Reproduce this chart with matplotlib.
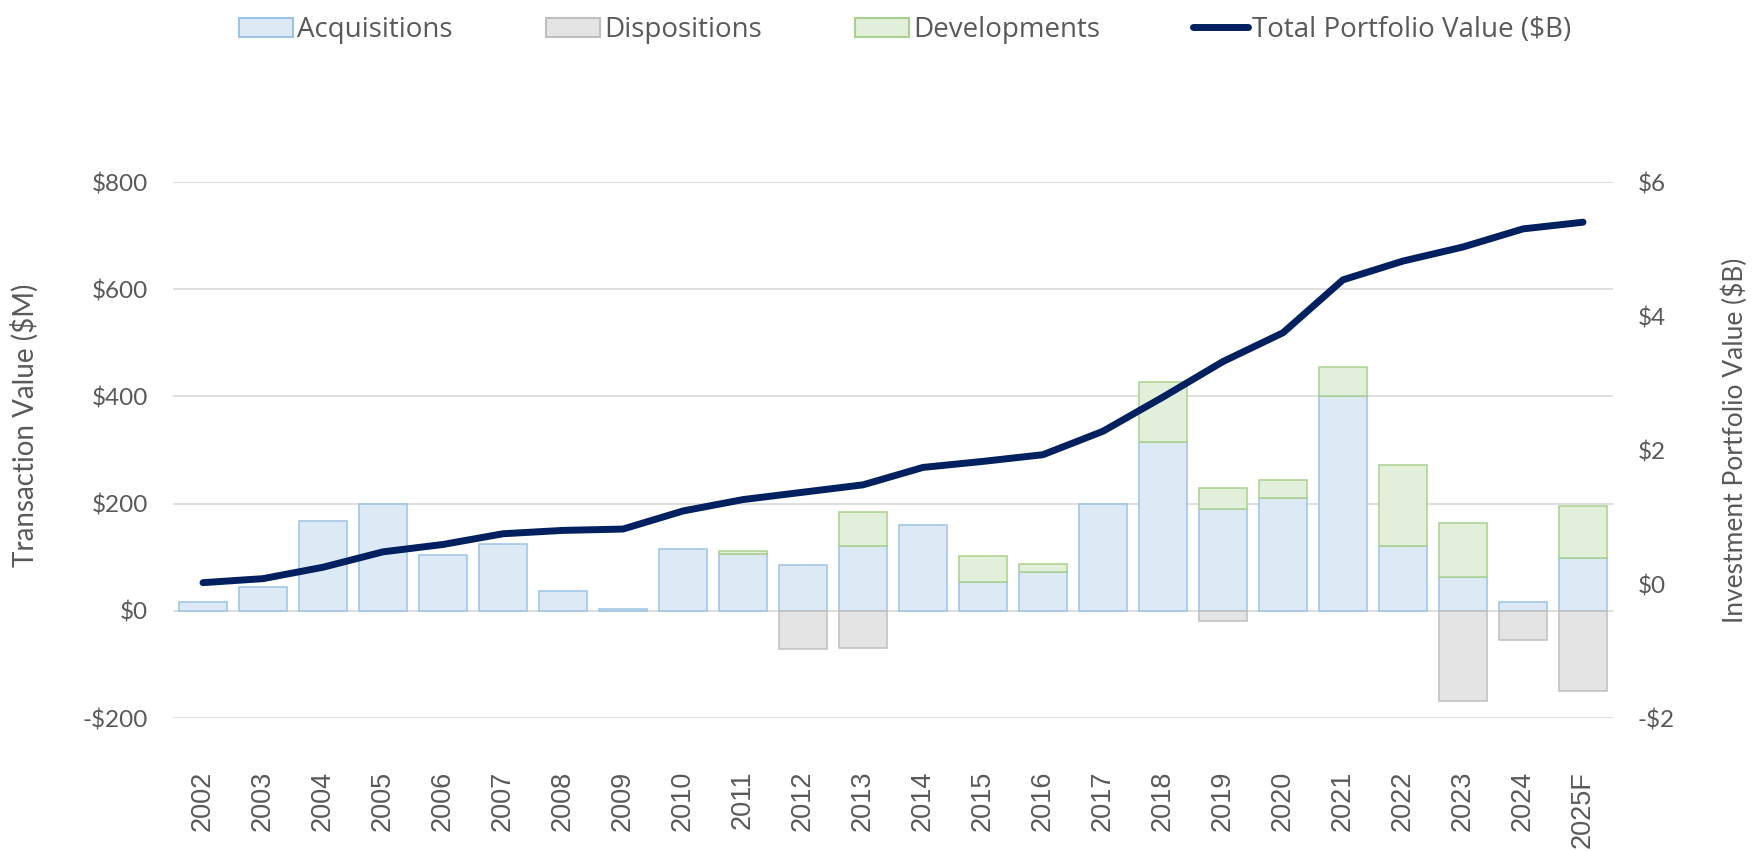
import matplotlib
matplotlib.use('Agg')
import matplotlib.pyplot as plt
import numpy as np
from matplotlib.patches import Patch
from matplotlib.lines import Line2D

years = ['2002', '2003', '2004', '2005', '2006', '2007', '2008', '2009', '2010',
         '2011', '2012', '2013', '2014', '2015', '2016', '2017', '2018', '2019',
         '2020', '2021', '2022', '2023', '2024', '2025F']
acquisitions = [16, 45, 168, 200, 104, 125, 37, 4, 115, 106, 86, 121, 161, 54,
                72, 200, 315, 190, 211, 400, 120, 63, 17, 99]
dispositions = [0, 0, 0, 0, 0, 0, 0, 0, 0, 0, -72, -69, 0, 0, 0, 0, 0, -19, 0,
                0, 0, -168, -55, -150]
developments = [0, 0, 0, 0, 0, 0, 0, 0, 0, 6, 0, 64, 0, 48, 16, 0, 111, 39, 33,
                55, 152, 101, 0, 96]
portfolio = [0.02, 0.08, 0.25, 0.48, 0.59, 0.75, 0.80, 0.82, 1.09, 1.26, 1.37,
             1.48, 1.74, 1.83, 1.93, 2.28, 2.79, 3.32, 3.75, 4.54, 4.82, 5.03,
             5.30, 5.40]
left_ticks = [-200, 0, 200, 400, 600, 800]
left_labels = ['-$200', '$0', '$200', '$400', '$600', '$800']
right_ticks = [-2, 0, 2, 4, 6]
right_labels = ['-$2', '$0', '$2', '$4', '$6']

TXT = '#595959'
ACQ_F, ACQ_E = '#DDEAF6', '#9DC3E6'
DIS_F, DIS_E = '#E4E4E4', '#BFBFBF'
DEV_F, DEV_E = '#E2EFDA', '#A9D18E'
LINE_C = '#002060'

W, H = 1752, 851
fig = plt.figure(figsize=(W / 100, H / 100), dpi=100)
ax = fig.add_axes([173 / W, 1 - 718 / H, 1440 / W, 536 / H])
ax2 = ax.twinx()

x = np.arange(len(years))
acq = np.array(acquisitions, float)
dis = np.array(dispositions, float)
dev = np.array(developments, float)
bw = 0.8
lw_bar = 1.1

m = acq != 0
ax.bar(x[m], acq[m], bw, color=ACQ_F, edgecolor=ACQ_E, linewidth=lw_bar, zorder=2)
m = dis != 0
ax.bar(x[m], dis[m], bw, color=DIS_F, edgecolor=DIS_E, linewidth=lw_bar, zorder=2)
m = dev != 0
ax.bar(x[m], dev[m], bw, bottom=acq[m], color=DEV_F, edgecolor=DEV_E, linewidth=lw_bar, zorder=2)

ax.set_xlim(-0.5, len(years) - 0.5)
ax.set_ylim(-200, 800)
ax.set_yticks(left_ticks)
ax.set_yticklabels(left_labels, fontfamily='Lato', fontsize=17.5, color=TXT)
ax.grid(axis='y', color='#D9D9D9', linewidth=1.2, zorder=0)
ax.set_axisbelow(True)
ax.set_xticks(x)
ax.set_xticklabels(years, rotation=90, fontfamily='Liberation Sans', fontsize=19.5, color=TXT)
ax.tick_params(axis='x', length=0, pad=38)
ax.tick_params(axis='y', length=0, pad=18)
for s in ax.spines.values():
    s.set_visible(False)

ax2.plot(x, portfolio, color=LINE_C, linewidth=5, solid_capstyle='round',
         solid_joinstyle='round', zorder=5)
ax2.set_ylim(-2, 6)
ax2.set_yticks(right_ticks)
ax2.set_yticklabels(right_labels, fontfamily='Lato', fontsize=17.5, color=TXT)
ax2.tick_params(axis='y', length=0, pad=18)
for s in ax2.spines.values():
    s.set_visible(False)

fig.text(25 / W, 1 - 425 / H, 'Transaction Value ($M)', rotation=90, ha='center',
         va='center', fontfamily='Lato', fontsize=20, color=TXT)
fig.text(1735 / W, 1 - 440 / H, 'Investment Portfolio Value ($B)', rotation=90,
         ha='center', va='center', fontfamily='Lato', fontsize=19, color=TXT)

handles = [
    Patch(facecolor=ACQ_F, edgecolor=ACQ_E, linewidth=1.5),
    Patch(facecolor=DIS_F, edgecolor=DIS_E, linewidth=1.5),
    Patch(facecolor=DEV_F, edgecolor=DEV_E, linewidth=1.5),
    Line2D([0], [0], color=LINE_C, linewidth=5, solid_capstyle='round'),
]
labels = ['Acquisitions', 'Dispositions', 'Developments', 'Total Portfolio Value ($B)']
leg = fig.legend(handles, labels, loc='center', bbox_to_anchor=(905 / W, 1 - 30 / H),
                 ncol=4, frameon=False, handlelength=1.95, handleheight=0.7,
                 handletextpad=0.15, columnspacing=3.35,
                 prop={'family': 'Open Sans', 'size': 20})
for t in leg.get_texts():
    t.set_color(TXT)

fig.savefig('out.png', dpi=100)
